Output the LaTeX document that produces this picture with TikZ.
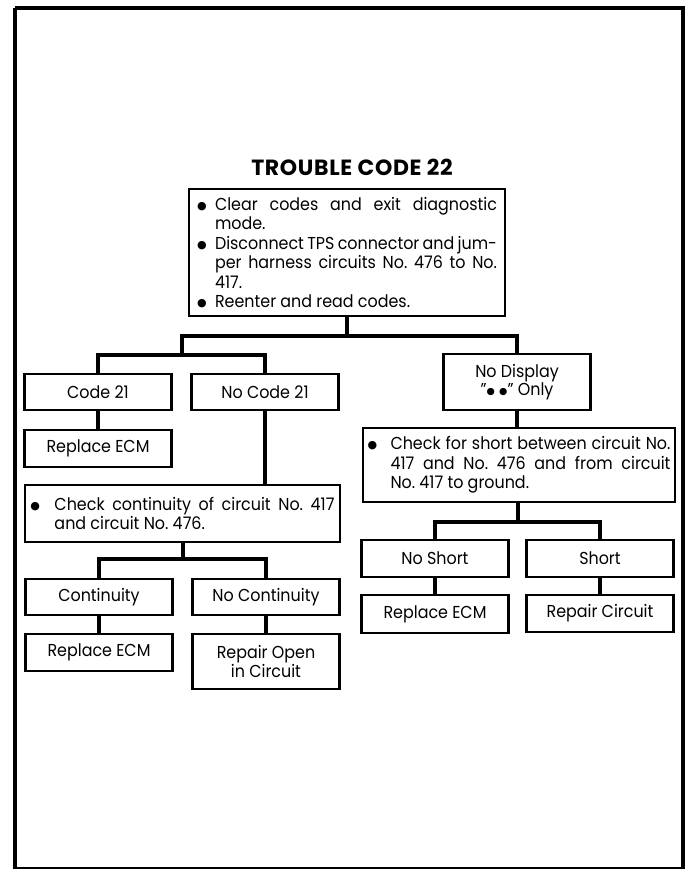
\documentclass[tikz,border=0pt]{standalone}
\usepackage{fontspec}
\setmainfont{Poppins}[FakeStretch=0.92]
\newfontfamily\titlefont{Poppins}[LetterSpace=3]
\newfontfamily\symfont{DejaVu Sans}
\newcommand\boxfont{\fontsize{17.3}{19.5}\selectfont\frenchspacing}
\newcommand\bigdot{\raisebox{1.2pt}{\symfont\fontsize{11}{10}\selectfont ●}}
\newcommand\smalldot{\raisebox{1pt}{\symfont\fontsize{9.5}{9}\selectfont ●}}
% pieces of a bulleted block: bullet column, justified line, last line
\newcommand\bul[1]{\makebox[#1][l]{\bigdot}}
\newcommand\fullline[2]{\makebox[#1][s]{#2}}
\newcommand\lastline[2]{\makebox[#1][l]{#2}}
\begin{document}
\begin{tikzpicture}[x=1pt,y=-1pt,
  box/.style={draw, line width=2.2pt, inner sep=0pt, align=center, font=\boxfont},
  small/.style={box, minimum width=147pt, minimum height=37pt},
  tall/.style={box, minimum width=147pt, minimum height=56pt},
  note/.style={box, align=left, font=\boxfont},
  conn/.style={line width=3.8pt, line join=miter, line cap=rect},
  frame/.style={line width=4pt}
]
\useasboundingbox (0,0) rectangle (690,871);
\fill[white] (0,0) rectangle (690,871);

% outer frame
\draw[frame] (14.5,8) -- (683,8) -- (683,868);
\draw[frame] (14.5,8) -- (14.5,868);
\draw[line width=2.5pt] (12.5,868) -- (685,868);

% title
\node[font=\titlefont\fontsize{22}{24}\selectfont\bfseries] (title) at (352,167) {TROUBLE CODE 22};

% first step
\node[note, minimum width=316pt, minimum height=127pt] (top) at (347,252.5) {%
\bul{18pt}\fullline{282pt}{Clear codes and exit diagnostic}\\
\hspace*{18pt}\lastline{282pt}{mode.}\\
\bul{18pt}\fullline{282pt}{Disconnect TPS connector and jum-}\\
\hspace*{18pt}\fullline{282pt}{per harness circuits No. 476 to No.}\\
\hspace*{18pt}\lastline{282pt}{417.}\\
\bul{18pt}\lastline{282pt}{Reenter and read codes.}};

% left branch
\node[small, minimum height=36pt] (c21) at (98,392) {Code 21};
\node[small, minimum height=36pt] (nc21) at (265,392) {No Code 21};
\node[small] (rep1) at (98,448.5) {Replace ECM};

\node[note, minimum width=315pt, minimum height=57pt] (cont) at (182.5,513.5) {%
\bul{24pt}\fullline{280pt}{Check continuity of circuit No. 417}\\
\hspace*{24pt}\lastline{280pt}{and circuit No. 476.}};

\node[small, minimum height=36pt] (cy) at (99,597) {Continuity};
\node[small, minimum height=36pt] (cn) at (266,597) {No Continuity};
\node[small] (rep2) at (99,652.5) {Replace ECM};
\node[tall, minimum height=55pt] (open) at (266,661.5) {Repair Open\\in Circuit};

% right branch
\node[tall] (nd) at (517,382) {No Display\\[-1pt]''\smalldot\ \smalldot'' Only};
\node[note, minimum width=312pt, minimum height=74pt] (short) at (519,465) {%
\bul{23pt}\fullline{280pt}{Check for short between circuit No.}\\
\hspace*{23pt}\fullline{280pt}{417 and No. 476 and from circuit}\\
\hspace*{23pt}\lastline{280pt}{No. 417 to ground.}};

\node[small] (ns) at (435,558.5) {No Short};
\node[small] (sh) at (600,558.5) {Short};
\node[small, minimum height=38pt] (rep3) at (435,614) {Replace ECM};
\node[small] (rc) at (600,613.5) {Repair Circuit};

% junction points
\coordinate (j1) at (347,336);
\coordinate (jl) at (182,336);
\coordinate (jr) at (517,336);
\coordinate (jl2) at (182,355);
\coordinate (jc) at (183,559);
\coordinate (js) at (518,522);

% connectors
\draw[conn] (top.south) -- (j1);
\draw[conn] (jl2) -- (jl) -- (jr) -- (nd.north);
\draw[conn] (c21.north) |- (jl2) -| (nc21.north);
\draw[conn] (c21.south) -- (rep1.north);
\draw[conn] (nc21.south) -- (nc21.south |- cont.north);
\draw[conn] (cont.south -| jc) -- (jc);
\draw[conn] (cy.north) |- (jc) -| (cn.north);
\draw[conn] (cy.south) -- (rep2.north);
\draw[conn] (cn.south) -- (open.north);
\draw[conn] (nd.south) -- (nd.south |- short.north);
\draw[conn] (short.south -| js) -- (js);
\draw[conn] (ns.north) |- (js) -| (sh.north);
\draw[conn] (ns.south) -- (rep3.north);
\draw[conn] (sh.south) -- (rc.north);
\end{tikzpicture}
\end{document}
